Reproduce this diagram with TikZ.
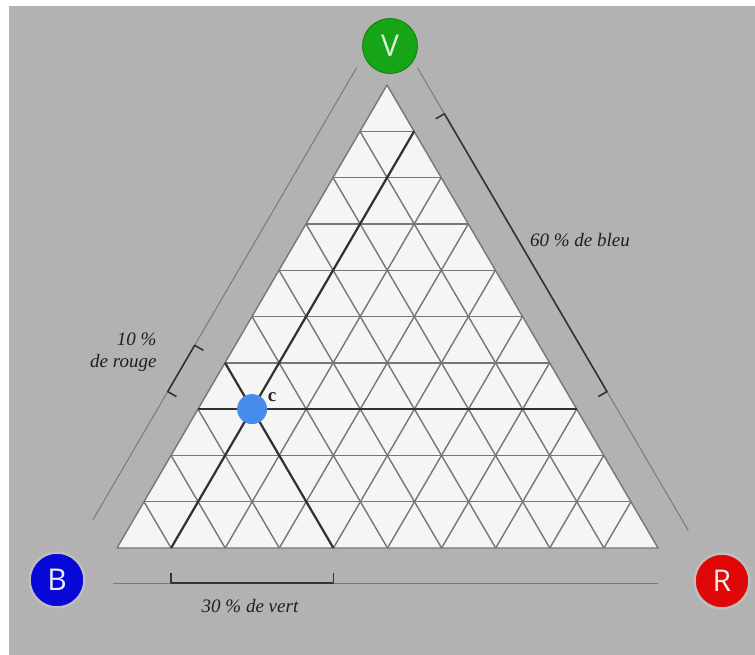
\documentclass[tikz,border=0pt]{standalone}
\usepackage{fontspec}
\setmainfont{Liberation Serif}
\newfontfamily\cornerfont{Open Sans}
\usetikzlibrary{calc}
\definecolor{bggray}{RGB}{178,178,178}
\definecolor{halogray}{RGB}{190,190,190}
\definecolor{cellfill}{RGB}{245,245,245}
\definecolor{gridgray}{RGB}{118,118,118}
\definecolor{darkline}{RGB}{50,50,50}
\definecolor{vgreen}{RGB}{22,165,22}
\definecolor{bblue}{RGB}{8,8,215}
\definecolor{rred}{RGB}{222,8,8}
\definecolor{cblue}{RGB}{72,140,235}

\begin{document}
\begin{tikzpicture}[x=1pt,y=-1pt,line join=round,
  gridline/.style={draw=gridgray, line width=1.4pt},
  heavyline/.style={draw=darkline, line width=2.2pt},
  guide/.style={draw=black!52, line width=1pt},
  bracket/.style={draw=black!80, line width=1.6pt},
  corner/.style={circle, minimum size=55pt, inner sep=0pt, draw=halogray, line width=2.5pt, text=white!92!black, font=\cornerfont\fontsize{30}{30}\selectfont},
  caption/.style={font=\itshape\fontsize{19}{22}\selectfont, text=black!88}]
\useasboundingbox (0,0) rectangle (755,655);
\fill[white] (0,0) rectangle (755,655);
\fill[bggray] (9,6) rectangle (755,655);
\coordinate (b) at (117,548);
\coordinate (r) at (658,548);
\coordinate (v) at (387,85);
\fill[cellfill] (b) -- (r) -- (v) -- cycle;
\foreach \i in {1,...,9}{
  \draw[gridline] ($(b)!\i/10!(v)$) -- ($(r)!\i/10!(v)$);
  \draw[gridline] ($(b)!\i/10!(r)$) -- ($(v)!\i/10!(r)$);
  \draw[gridline] ($(b)!\i/10!(r)$) -- ($(b)!\i/10!(v)$);
}
\draw[gridline] (b) -- (r) -- (v) -- cycle;
\draw[heavyline] ($(b)!0.3!(v)$) -- ($(r)!0.3!(v)$);
\draw[heavyline] ($(b)!0.1!(r)$) -- ($(v)!0.1!(r)$);
\draw[heavyline] ($(b)!0.4!(r)$) -- ($(b)!0.4!(v)$);
\draw[guide] ($(b)!12pt!(v)+(-30.3,-17.5)$) -- ($(v)+(-30.3,-17.5)$);
\draw[guide] ($(v)+(30.3,-17.5)$) -- ($(r)+(30.3,-17.5)$);
\draw[guide] ($(b)+(-4,35)$) -- ($(r)+(0,35)$);
\draw[bracket] ($(b)!0.1!(r)+(0,25)$) -- ($(b)!0.1!(r)+(0,35)$) -- ($(b)!0.4!(r)+(0,35)$) -- ($(b)!0.4!(r)+(0,25)$);
\draw[bracket] ($(b)!0.3!(v)+(-21.6,-12.5)$) -- ($(b)!0.3!(v)+(-30.3,-17.5)$) -- ($(b)!0.4!(v)+(-30.3,-17.5)$) -- ($(b)!0.4!(v)+(-21.6,-12.5)$);
\draw[bracket] ($(r)!0.3!(v)+(21.6,-12.5)$) -- ($(r)!0.3!(v)+(30.3,-17.5)$) -- ($(r)!0.9!(v)+(30.3,-17.5)$) -- ($(r)!0.9!(v)+(21.6,-12.5)$);
\node[circle, fill=cblue, minimum size=30pt, inner sep=0pt] (c) at (barycentric cs:b=0.6,r=0.1,v=0.3) {};
\node[font=\bfseries\fontsize{19}{19}\selectfont, text=black!85] (clabel) at ($(c)+(20,-12)$) {c};
\node[caption] (vert) at (250,606) {30 \% de vert};
\node[caption, align=right, anchor=east] (rouge) at (160,352) {10 \%\\de rouge};
\node[caption] (bleu) at (580,240) {60 \% de bleu};
\node[corner, fill=vgreen, draw=vgreen!75!black, line width=0.8pt, text=white!85!vgreen] (vnode) at (390,46) {V};
\node[corner, fill=bblue] (bnode) at (57,580) {B};
\node[corner, fill=rred] (rnode) at (722,581) {R};
\end{tikzpicture}
\end{document}
